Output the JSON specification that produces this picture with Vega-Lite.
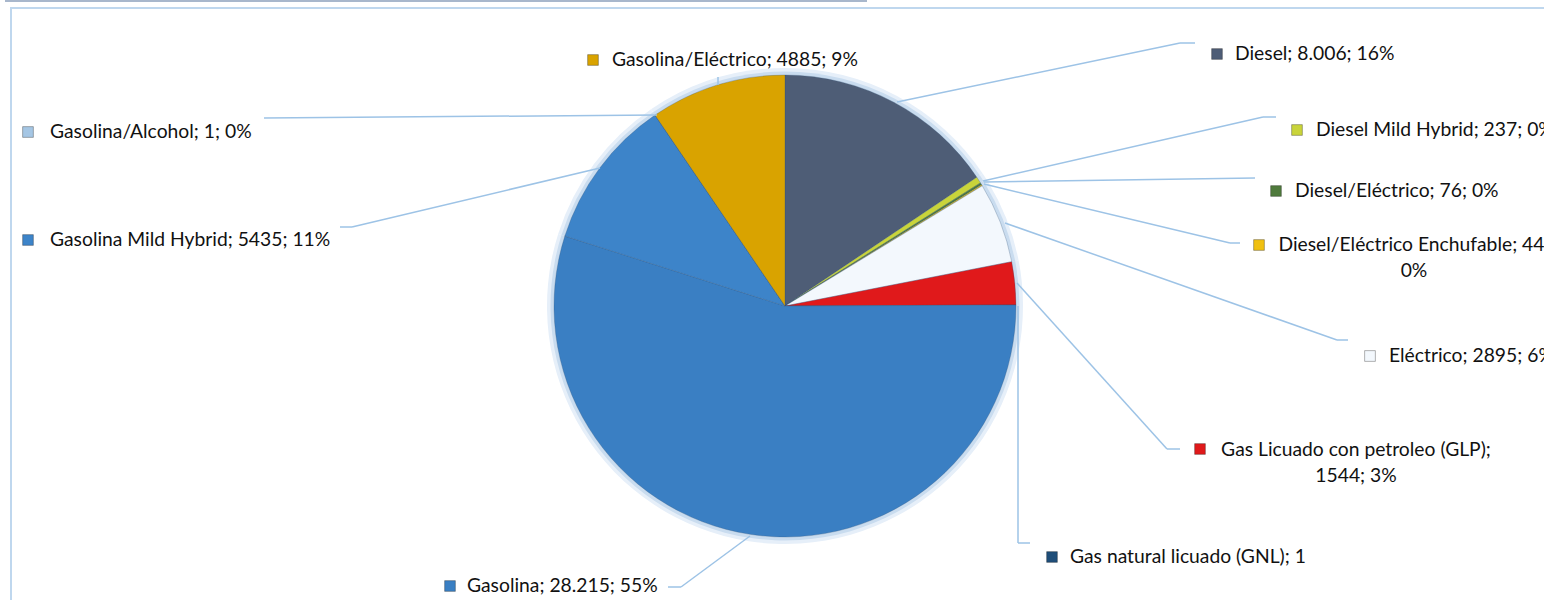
{
  "$schema": "https://vega.github.io/schema/vega-lite/v6.json",
  "width": 1536,
  "height": 595,
  "autosize": "none",
  "padding": {"left": 11, "top": 8, "right": -3, "bottom": -3},
  "background": "white",
  "config": {"view": {"stroke": "#bfd7ee", "strokeWidth": 2}, "font": "Lato"},
  "data": {"values": [
    {"tipo": "Diesel", "valor": 8006, "etiqueta": "Diesel; 8.006; 16%"},
    {"tipo": "Diesel Mild Hybrid", "valor": 237, "etiqueta": "Diesel Mild Hybrid; 237; 0%"},
    {"tipo": "Diesel/Eléctrico", "valor": 76, "etiqueta": "Diesel/Eléctrico; 76; 0%"},
    {"tipo": "Diesel/Eléctrico Enchufable", "valor": 44, "etiqueta": ["Diesel/Eléctrico Enchufable; 44;", "0%"]},
    {"tipo": "Eléctrico", "valor": 2895, "etiqueta": "Eléctrico; 2895; 6%"},
    {"tipo": "Gas Licuado con petroleo (GLP)", "valor": 1544, "etiqueta": ["Gas Licuado con petroleo (GLP);", "1544; 3%"]},
    {"tipo": "Gas natural licuado (GNL)", "valor": 1, "etiqueta": "Gas natural licuado (GNL); 1"},
    {"tipo": "Gasolina", "valor": 28215, "etiqueta": "Gasolina; 28.215; 55%"},
    {"tipo": "Gasolina Mild Hybrid", "valor": 5435, "etiqueta": "Gasolina Mild Hybrid; 5435; 11%"},
    {"tipo": "Gasolina/Alcohol", "valor": 1, "etiqueta": "Gasolina/Alcohol; 1; 0%"},
    {"tipo": "Gasolina/Eléctrico", "valor": 4885, "etiqueta": "Gasolina/Eléctrico; 4885; 9%"}
  ]},
  "transform": [
    {"calculate": "{'Diesel': [1217,54,1235,54,897,102,1180,43,1195,43], 'Diesel Mild Hybrid': [1297,130,1316,130,983,181,1263,117,1276,117], 'Diesel/Eléctrico': [1276,191,1295,191,984,182,1255,178,1255,178], 'Diesel/Eléctrico Enchufable': [1259,245,1414,245,984,184,1230,243,1240,243], 'Eléctrico': [1370,356,1389,356,1005,223,1337,340,1348,340], 'Gas Licuado con petroleo (GLP)': [1200,449,1356,450,1017,283,1167,449,1180,449], 'Gas natural licuado (GNL)': [1052,557,1070,557,1018,306,1018,543,1030,543], 'Gasolina': [450,586,467,586,750,536,681,587,668,587], 'Gasolina Mild Hybrid': [28,240,50,240,600,168,352,227,340,227], 'Gasolina/Alcohol': [28,132,50,132,657,115,264,118,264,118], 'Gasolina/Eléctrico': [593,60,612,60,718,85,718,77,718,77]}[datum.tipo]", "as": "lay"},
    {"calculate": "datum.lay[0]", "as": "mx"},
    {"calculate": "datum.lay[1]", "as": "my"},
    {"calculate": "datum.lay[2]", "as": "tx"},
    {"calculate": "datum.lay[3]", "as": "ty"},
    {"calculate": "datum.lay[4]", "as": "ax"},
    {"calculate": "datum.lay[5]", "as": "ay"},
    {"calculate": "datum.lay[6]", "as": "bx"},
    {"calculate": "datum.lay[7]", "as": "by"},
    {"calculate": "datum.lay[8]", "as": "cx"},
    {"calculate": "datum.lay[9]", "as": "cy"}
  ],
  "layer": [
    {
      "mark": {"type": "arc", "outerRadius": 238, "fill": "#e6eff9"},
      "encoding": {
        "theta": {"field": "valor", "type": "quantitative", "stack": true},
        "x": {"datum": 785, "type": "quantitative", "scale": {"domain": [11, 1547], "nice": false, "zero": false}, "axis": null},
        "y": {"datum": 306, "type": "quantitative", "scale": {"domain": [603, 8], "nice": false, "zero": false}, "axis": null}
      }
    },
    {
      "mark": {"type": "arc", "outerRadius": 234.5, "fill": "#c9dcef"},
      "encoding": {
        "theta": {"field": "valor", "type": "quantitative", "stack": true},
        "x": {"datum": 785, "type": "quantitative", "scale": {"domain": [11, 1547], "nice": false, "zero": false}, "axis": null},
        "y": {"datum": 306, "type": "quantitative", "scale": {"domain": [603, 8], "nice": false, "zero": false}, "axis": null}
      }
    },
    {
      "mark": {"type": "arc", "outerRadius": 231, "stroke": "#2f4f73", "strokeOpacity": 0.35, "strokeWidth": 0.8},
      "encoding": {
        "theta": {"field": "valor", "type": "quantitative", "stack": true},
        "color": {"field": "tipo", "type": "nominal", "legend": null,
          "scale": {
            "domain": ["Diesel", "Diesel Mild Hybrid", "Diesel/Eléctrico", "Diesel/Eléctrico Enchufable", "Eléctrico", "Gas Licuado con petroleo (GLP)", "Gas natural licuado (GNL)", "Gasolina", "Gasolina Mild Hybrid", "Gasolina/Alcohol", "Gasolina/Eléctrico"],
            "range": ["#4e5d76", "#c9d43a", "#4f7a3c", "#f0c010", "#f3f8fd", "#e0191b", "#1f4e79", "#3a7fc3", "#3d84c9", "#a5c6e4", "#d9a300"]
          }},
        "x": {"datum": 785, "type": "quantitative", "scale": {"domain": [11, 1547], "nice": false, "zero": false}, "axis": null},
        "y": {"datum": 306, "type": "quantitative", "scale": {"domain": [603, 8], "nice": false, "zero": false}, "axis": null}
      }
    },
    {
      "mark": {"type": "rule", "color": "#9dc3e6", "strokeWidth": 1.5},
      "encoding": {
        "x": {"field": "ax", "type": "quantitative", "scale": {"domain": [11, 1547], "nice": false, "zero": false}, "axis": null},
        "y": {"field": "ay", "type": "quantitative", "scale": {"domain": [603, 8], "nice": false, "zero": false}, "axis": null},
        "x2": {"field": "bx"},
        "y2": {"field": "by"}
      }
    },
    {
      "mark": {"type": "rule", "color": "#9dc3e6", "strokeWidth": 1.5},
      "encoding": {
        "x": {"field": "bx", "type": "quantitative", "scale": {"domain": [11, 1547], "nice": false, "zero": false}, "axis": null},
        "y": {"field": "by", "type": "quantitative", "scale": {"domain": [603, 8], "nice": false, "zero": false}, "axis": null},
        "x2": {"field": "cx"},
        "y2": {"field": "cy"}
      }
    },
    {
      "mark": {"type": "point", "shape": "square", "filled": true, "size": 115, "opacity": 1, "stroke": "#000000", "strokeOpacity": 0.3, "strokeWidth": 1},
      "encoding": {
        "x": {"field": "mx", "type": "quantitative", "scale": {"domain": [11, 1547], "nice": false, "zero": false}, "axis": null},
        "y": {"field": "my", "type": "quantitative", "scale": {"domain": [603, 8], "nice": false, "zero": false}, "axis": null},
        "color": {"field": "tipo", "type": "nominal", "legend": null}
      }
    },
    {
      "transform": [{"filter": "!isArray(datum.etiqueta)"}],
      "mark": {"type": "text", "align": "left", "baseline": "middle", "fontSize": 19.3, "color": "#111111", "font": "Lato"},
      "encoding": {
        "x": {"field": "tx", "type": "quantitative", "scale": {"domain": [11, 1547], "nice": false, "zero": false}, "axis": null},
        "y": {"field": "ty", "type": "quantitative", "scale": {"domain": [603, 8], "nice": false, "zero": false}, "axis": null},
        "text": {"field": "etiqueta"}
      }
    },
    {
      "transform": [{"filter": "isArray(datum.etiqueta)"}],
      "mark": {"type": "text", "align": "center", "baseline": "middle", "fontSize": 19.3, "lineHeight": 25.5, "color": "#111111", "font": "Lato"},
      "encoding": {
        "x": {"field": "tx", "type": "quantitative", "scale": {"domain": [11, 1547], "nice": false, "zero": false}, "axis": null},
        "y": {"field": "ty", "type": "quantitative", "scale": {"domain": [603, 8], "nice": false, "zero": false}, "axis": null},
        "text": {"field": "etiqueta"}
      }
    },
    {
      "data": {"values": [{"borde": "superior"}]},
      "mark": {"type": "rule", "color": "#a8b7cc", "strokeWidth": 2},
      "encoding": {
        "x": {"datum": 5, "type": "quantitative", "scale": {"domain": [11, 1547], "nice": false, "zero": false}, "axis": null},
        "x2": {"datum": 867},
        "y": {"datum": 1, "type": "quantitative", "scale": {"domain": [603, 8], "nice": false, "zero": false}, "axis": null}
      }
    }
  ]
}
